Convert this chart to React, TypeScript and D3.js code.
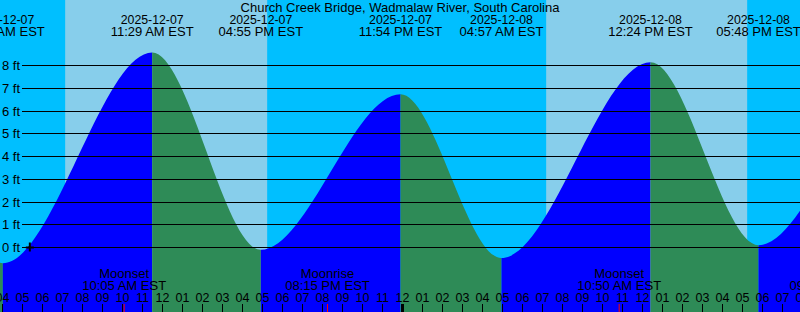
import React from 'react';
import * as d3 from 'd3';

const TITLE = 'Church Creek Bridge, Wadmalaw River, South Carolina';

// High / low tide events (local EST), heights in feet
const tideTimes = [
  '2025-12-06 16:20',
  '2025-12-06 22:35',
  '2025-12-07 04:01',
  '2025-12-07 11:29',
  '2025-12-07 16:55',
  '2025-12-07 23:54',
  '2025-12-08 04:57',
  '2025-12-08 12:24',
  '2025-12-08 17:48',
  '2025-12-09 00:25',
  '2025-12-09 05:40',
];
const tideHeights = [0.0, 6.9, -0.69, 8.57, -0.1, 6.74, -0.46, 8.14, 0.1, 6.6, -0.3];

// Daylight intervals
const sunriseTimes = ['2025-12-07 07:08', '2025-12-08 07:11'];
const sunsetTimes = ['2025-12-07 17:14', '2025-12-08 17:14'];

// Moon events
const moonLabels = ['Moonset', 'Moonrise', 'Moonset', 'Moonrise'];
const moonTimes = ['2025-12-07 10:05', '2025-12-07 20:15', '2025-12-08 10:50', '2025-12-08 21:28'];

// Y axis levels (ft)
const yLevels = [0, 1, 2, 3, 4, 5, 6, 7, 8];

const markTime = '2025-12-07 05:22';

const W = 800;
const H = 312;
const FONT = '"Liberation Sans", Arial, sans-serif';
const DAY = '#87CEEB';
const NIGHT = '#00BFFF';
const RISE = '#0000FF';
const FALL = '#2E8B57';

const parse = d3.timeParse('%Y-%m-%d %H:%M');

export default function App() {
  const t0 = parse('2025-12-07 04:00') as Date;
  const t1 = parse('2025-12-09 04:00') as Date;
  const x = d3.scaleTime().domain([t0, t1]).range([2.5, 2.5 + 48 * 20]);
  const y = d3.scaleLinear().domain([0, 8]).range([247.5, 65.5]);

  const tides = tideTimes.map((s, i) => ({ t: parse(s) as Date, h: tideHeights[i] }));
  const area = d3
    .area<{ t: Date; h: number }>()
    .x((d) => x(d.t))
    .y0(H)
    .y1((d) => y(d.h))
    .curve(d3.curveMonotoneX);
  const areaPath = area(tides) || '';

  const vis0 = x.invert(0);
  const vis1 = x.invert(W);
  const hours = d3.timeHour.range(d3.timeHour.ceil(d3.timeHour.offset(vis0, -1)), d3.timeHour.offset(vis1, 1));
  const fmtDate = d3.timeFormat('%Y-%m-%d');
  const fmtTime = d3.timeFormat('%I:%M %p');
  const fmtHour = d3.timeFormat('%I');

  const labeled = tides.filter((d) => x(d.t) > -60 && x(d.t) < W + 60);
  const mark = parse(markTime) as Date;

  return (
    <svg
      width={W}
      height={H}
      style={{ position: 'absolute', left: 0, top: 0, display: 'block' }}
      fontFamily={FONT}
      fontSize={13}
    >
      <defs>
        {tides.slice(0, -1).map((d, i) => (
          <clipPath id={`seg${i}`} key={i}>
            <rect x={x(d.t)} y={0} width={x(tides[i + 1].t) - x(d.t)} height={H} />
          </clipPath>
        ))}
      </defs>
      <rect x={0} y={0} width={W} height={H} fill={NIGHT} />
      {sunriseTimes.map((s, i) => {
        const a = x(parse(s) as Date);
        const b = x(parse(sunsetTimes[i]) as Date);
        return <rect key={i} x={a} y={0} width={b - a} height={H} fill={DAY} />;
      })}
      {tides.slice(0, -1).map((d, i) => (
        <path
          key={i}
          d={areaPath}
          fill={tides[i + 1].h > d.h ? RISE : FALL}
          clipPath={`url(#seg${i})`}
        />
      ))}
      {yLevels.map((v) => (
        <g key={v}>
          <line x1={22} x2={W} y1={y(v)} y2={y(v)} stroke="#000" strokeWidth={1} shapeRendering="crispEdges" />
          <text x={20} y={y(v) + 4.5} textAnchor="end" fill="#000">
            {`${v} ft`}
          </text>
        </g>
      ))}
      <g stroke="#000" strokeWidth={2}>
        <line x1={x(mark) - 4} x2={x(mark) + 4} y1={y(0)} y2={y(0)} />
        <line x1={x(mark)} x2={x(mark)} y1={y(0) - 5} y2={y(0) + 4} />
      </g>
      <text x={W / 2} y={12} textAnchor="middle" fill="#000">
        {TITLE}
      </text>
      {labeled.map((d, i) => (
        <g key={i}>
          <text x={x(d.t)} y={24} textAnchor="middle" fill="#000" fontSize={12.3}>
            {fmtDate(d.t)}
          </text>
          <text x={x(d.t)} y={36} textAnchor="middle" fill="#000">
            {`${fmtTime(d.t)} EST`}
          </text>
        </g>
      ))}
      {moonTimes.map((s, i) => {
        const t = parse(s) as Date;
        return (
          <g key={i}>
            <text x={x(t)} y={278} textAnchor="middle" fill="#000">
              {moonLabels[i]}
            </text>
            <text x={x(t)} y={290} textAnchor="middle" fill="#000">
              {`${fmtTime(t)} EST`}
            </text>
          </g>
        );
      })}
      {hours.map((h, i) => (
        <g key={i}>
          <line
            x1={x(h)}
            x2={x(h)}
            y1={304}
            y2={H}
            stroke="#000"
            strokeWidth={h.getHours() === 0 ? 3 : 1}
          />
          <text x={x(h)} y={302} textAnchor="middle" fill="#000" fontSize={12.5}>
            {fmtHour(h)}
          </text>
        </g>
      ))}
      {moonTimes.map((s, i) => {
        const t = parse(s) as Date;
        return <line key={i} x1={x(t)} x2={x(t)} y1={304} y2={H} stroke="#FF0000" strokeWidth={1} />;
      })}
    </svg>
  );
}
